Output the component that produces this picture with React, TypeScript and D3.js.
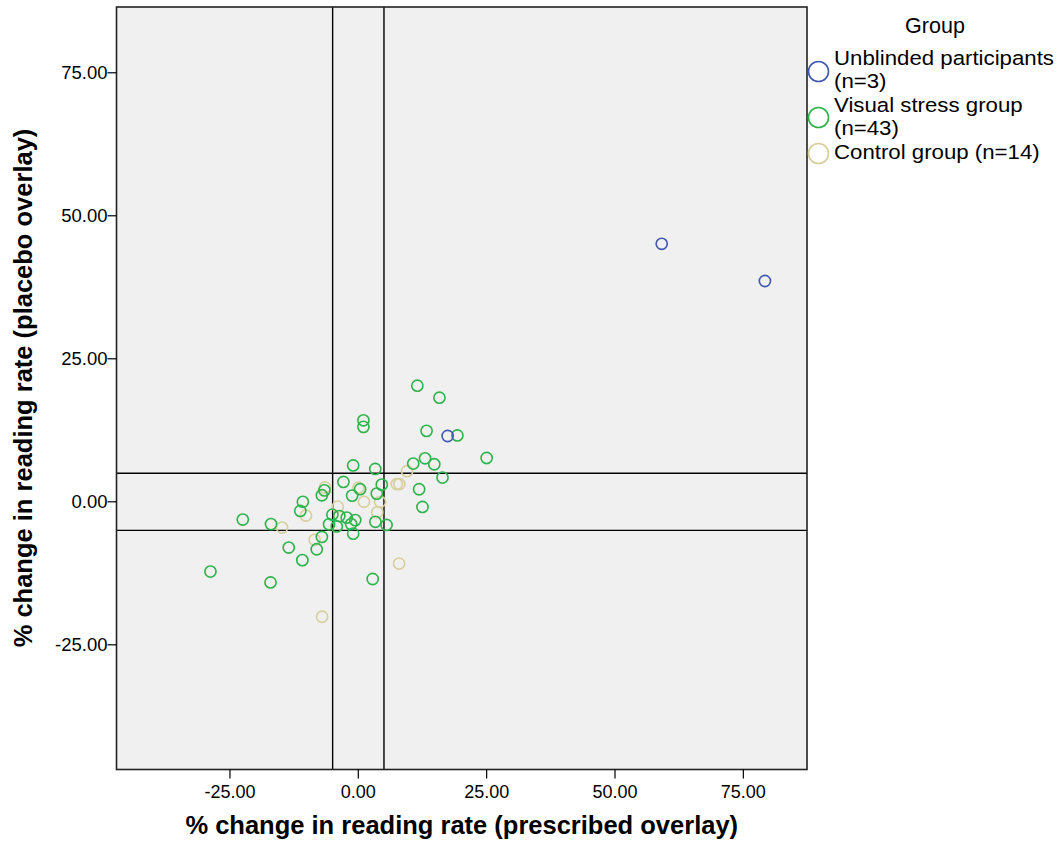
import React from "react";
import * as d3 from "d3";

const greenX = [11.5, 15.8, 1.0, 1.0, 13.3, 19.3, 25.0, 13.0, 10.7, 14.8, 16.4, -1.0, 3.3, -2.9, 4.57, 0.35, 3.6, -1.2, 11.85, 12.5, -6.6, -7.1, -10.8, -11.3, -22.5, -17.0, -5.05, -3.7, -2.25, -0.6, -1.4, -5.7, -4.2, -1.0, 3.33, 5.5, -7.1, -13.55, -10.9, -17.1, -8.1, -28.8, 2.8];
const greenY = [20.3, 18.2, 14.25, 13.1, 12.4, 11.6, 7.66, 7.6, 6.68, 6.56, 4.23, 6.35, 5.74, 3.47, 3.0, 2.2, 1.43, 1.08, 2.19, -0.9, 2.0, 1.14, 0.0, -1.6, -3.1, -3.9, -2.25, -2.5, -2.77, -3.2, -3.9, -3.93, -4.3, -5.57, -3.5, -4.05, -6.15, -8.0, -10.2, -14.1, -8.3, -12.2, -13.5];
const beigeX = [-6.5, 0.0, 1.1, 4.25, 3.7, 7.5, 8.0, 9.5, -10.2, -4.0, -8.5, -14.85, 7.95, -7.05];
const beigeY = [2.5, 2.47, 0.0, 0.0, -1.84, 3.1, 3.1, 5.35, -2.4, -0.85, -6.65, -4.5, -10.8, -20.1];
const blueX = [59.1, 79.2, 17.4];
const blueY = [45.1, 38.6, 11.5];

const xTicks = [-25, 0, 25, 50, 75];
const yTicks = [-25, 0, 25, 50, 75];
const refLines = [-5, 5];

const groups = [
  { name: ["Unblinded participants", "(n=3)"], color: "#3d58ad", xs: blueX, ys: blueY },
  { name: ["Visual stress group", "(n=43)"], color: "#2db34a", xs: greenX, ys: greenY },
  { name: ["Control group (n=14)"], color: "#d6cf9c", xs: beigeX, ys: beigeY },
];

export default function App() {
  const left = 116.5, right = 807, top = 7, bottom = 769.5;
  const x = d3.scaleLinear().domain([-47.1, 87.4]).range([left, right]);
  const y = d3.scaleLinear().domain([-46.8, 86.5]).range([bottom, top]);
  const font = "Liberation Sans, Arial, sans-serif";
  const drawOrder = [groups[2], groups[1], groups[0]];
  return (
    <svg width={1058} height={841} style={{ position: "absolute", left: 0, top: 0 }} fontFamily={font}>
      <rect x={0} y={0} width={1058} height={841} fill="#ffffff" />
      <rect x={left} y={top} width={right - left} height={bottom - top} fill="#f0f0f0" />
      {refLines.map((v) => (
        <line key={"vx" + v} x1={x(v)} x2={x(v)} y1={top} y2={bottom} stroke="#000" strokeWidth={1.4} />
      ))}
      {refLines.map((v) => (
        <line key={"hy" + v} x1={left} x2={right} y1={y(v)} y2={y(v)} stroke="#000" strokeWidth={1.4} />
      ))}
      {drawOrder.map((g) =>
        g.xs.map((vx, i) => (
          <circle key={g.color + i} cx={x(vx)} cy={y(g.ys[i])} r={5.6} fill="none" stroke={g.color} strokeWidth={1.6} />
        ))
      )}
      <rect x={left} y={top} width={right - left} height={bottom - top} fill="none" stroke="#222" strokeWidth={1.6} />
      {xTicks.map((t) => (
        <g key={"xt" + t}>
          <line x1={x(t)} x2={x(t)} y1={bottom} y2={bottom + 9} stroke="#000" strokeWidth={1.2} />
          <text x={x(t)} y={bottom + 28} textAnchor="middle" fontSize={18} fill="#000">{t.toFixed(2)}</text>
        </g>
      ))}
      {yTicks.map((t) => (
        <g key={"yt" + t}>
          <line x1={left - 9} x2={left} y1={y(t)} y2={y(t)} stroke="#000" strokeWidth={1.2} />
          <text x={left - 9} y={y(t) + 6.5} textAnchor="end" fontSize={18.5} fill="#000">{t.toFixed(2)}</text>
        </g>
      ))}
      <text x={(left + right) / 2} y={834} textAnchor="middle" fontSize={25.5} fontWeight="bold" fill="#000">
        % change in reading rate (prescribed overlay)
      </text>
      <text transform={`translate(32,388) rotate(-90)`} textAnchor="middle" fontSize={25.5} fontWeight="bold" fill="#000">
        % change in reading rate (placebo overlay)
      </text>
      <text x={935} y={33} textAnchor="middle" fontSize={21.5} fill="#000">Group</text>
      {groups.map((g, i) => {
        const cy = [71.5, 117.5, 153.5][i];
        const ty = [64.5, 111.5, 158.5][i];
        return (
          <g key={"lg" + i}>
            <circle cx={818.5} cy={cy} r={10} fill="none" stroke={g.color} strokeWidth={1.6} />
            {g.name.map((line, j) => (
              <text key={j} transform={`translate(834,${ty + j * 23.5}) scale(1.085,1)`} fontSize={20.5} fill="#000">{line}</text>
            ))}
          </g>
        );
      })}
    </svg>
  );
}
